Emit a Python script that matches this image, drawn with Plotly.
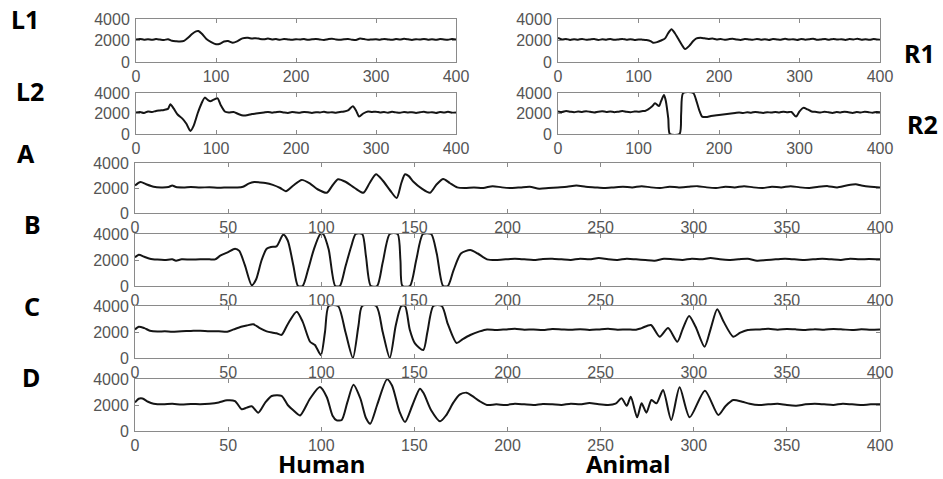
import plotly.graph_objects as go

# ---------------- data ----------------
L1_x = [0, 5, 10, 15, 20, 25, 30, 35, 40, 45, 50, 55, 60, 65, 70, 75, 78, 82, 88, 94, 100, 105, 110, 115, 121, 127, 133,
        140, 145, 150, 155, 160, 165, 170, 175, 180, 185, 190, 195, 200, 205, 210, 215, 220, 225, 230, 235, 240, 245,
        250, 255, 260, 265, 270, 275, 280, 285, 290, 295, 300, 305, 310, 315, 320, 325, 330, 335, 340, 345, 350, 355,
        360, 365, 370, 375, 380, 385, 390, 395, 400]
L1_y = [2100, 2150, 2080, 2120, 2060, 2130, 2090, 2050, 2120, 1980, 1930, 1900, 1960, 2250, 2600, 2850, 2880, 2650,
        2150, 1850, 1650, 1700, 1900, 1950, 1800, 1950, 2200, 2250, 2180, 2220, 2150, 2120, 2180, 2100, 2130, 2070,
        2140, 2100, 2060, 2120, 2090, 2130, 2060, 2110, 2150, 2090, 2050, 2120, 2170, 2100, 2060, 2110, 2140, 2080,
        2050, 2180, 2130, 2060, 2100, 2120, 2070, 2150, 2100, 2060, 2130, 2090, 2160, 2110, 2050, 2120, 2090, 2150,
        2080, 2120, 2060, 2140, 2100, 2080, 2130, 2090]

L2_x = [0, 5, 10, 15, 20, 25, 30, 35, 40, 43, 47, 52, 58, 63, 68, 72, 77, 82, 86, 90, 93, 97, 102, 106, 111, 116, 122,
        128, 134, 140, 145, 150, 155, 160, 165, 170, 175, 180, 185, 190, 195, 200, 205, 210, 215, 220, 225, 230, 235,
        240, 245, 250, 255, 260, 265, 271, 275, 279, 284, 290, 295, 300, 305, 310, 315, 320, 325, 330, 335, 340, 345,
        350, 355, 360, 365, 370, 375, 380, 385, 390, 395, 400]
L2_y = [2100, 2150, 2050, 2200, 2150, 2250, 2300, 2350, 2450, 2900, 2500, 1900, 1500, 1000, 300, 800, 2000, 3000, 3550,
        3300, 3200, 3350, 3480, 2800, 2200, 2100, 2150, 1950, 1800, 1850, 1950, 2000, 2050, 2100, 2150, 2080, 2130,
        2170, 2100, 2060, 2140, 2100, 2080, 2150, 2120, 2060, 2130, 2100, 2170, 2090, 2130, 2080, 2150, 2200, 2300,
        2700, 2300, 1700, 2000, 2200, 2150, 2180, 2100, 2140, 2080, 2160, 2110, 2070, 2150, 2100, 2130, 2060, 2120,
        2170, 2090, 2130, 2050, 2140, 2100, 2160, 2080, 2110]

R1_x = [0, 5, 10, 15, 20, 25, 30, 35, 40, 45, 50, 55, 60, 65, 70, 75, 80, 85, 90, 95, 100, 105, 110, 115, 118, 123,
        128, 133, 137, 141, 145, 149, 153, 158, 163, 168, 172, 177, 182, 187, 192, 197, 202, 207, 212, 217, 222, 227,
        232, 237, 242, 247, 252, 257, 262, 267, 272, 277, 282, 287, 292, 297, 302, 307, 312, 317, 322, 327, 332, 337,
        342, 347, 352, 357, 362, 367, 372, 377, 382, 387, 392, 396, 400]
R1_y = [2250, 2100, 2150, 2050, 2120, 2080, 2150, 2060, 2100, 2130, 2050, 2110, 2080, 2140, 2060, 2100, 2150, 2070,
        2120, 2050, 2100, 2080, 2050, 1950, 1800, 1850, 2000, 2200, 2700, 3050, 2700, 2200, 1700, 1200, 1500, 1950,
        2200, 2250, 2200, 2150, 2180, 2100, 2140, 2070, 2120, 2160, 2090, 2050, 2130, 2100, 2060, 2150, 2080, 2120,
        2050, 2140, 2100, 2070, 2160, 2090, 2120, 2050, 2140, 2080, 2110, 2170, 2060, 2100, 2130, 2070, 2150, 2090,
        2120, 2050, 2130, 2100, 2160, 2080, 2110, 2060, 2140, 2100, 2080]

R2_x = [0, 5, 10, 15, 20, 25, 30, 35, 40, 45, 50, 55, 60, 65, 70, 75, 80, 85, 90, 95, 100, 104, 108, 112, 117, 120.6,
        125.5, 128, 131.7, 134, 137, 139, 151, 153, 155.5, 168, 172, 176, 179, 184, 190, 200, 210, 220, 225, 230,
        235, 240, 245, 250, 255, 260, 265, 270, 275, 280, 285, 290, 295.7, 300, 304.8, 310, 315, 321, 326, 331, 336,
        341, 346, 351, 356, 361, 366, 371, 376, 381, 386, 391, 396, 400]
R2_y = [2200, 2150, 2250, 2180, 2120, 2200, 2150, 2230, 2160, 2100, 2180, 2220, 2150, 2200, 2130, 2180, 2240, 2160,
        2120, 2200, 2170, 2230, 2250, 2400, 2700, 3000, 2720, 3200, 3800, 3200, 1500, 0, 0, 2000, 4000, 4000, 3200,
        2200, 1700, 1650, 1750, 1850, 1950, 2050, 2100, 2050, 2120, 2080, 2150, 2100, 2060, 2130, 2090, 2150, 2100,
        2180, 2120, 2150, 1700, 2200, 2550, 2400, 2200, 2150, 2100, 2170, 2120, 2060, 2150, 2100, 2180, 2120, 2060,
        2140, 2100, 2170, 2120, 2080, 2150, 2120]

A_x = [0, 3, 6, 10, 14, 18, 20, 22, 26, 30, 35, 40, 45, 50, 55, 58, 61, 64, 67, 70, 74, 78, 81, 85, 89.5, 94, 98, 103,
       106, 109, 113, 118, 122.6, 126, 129.4, 133, 137, 140.5, 143, 145, 147, 149.5, 154, 158.4, 162, 165.5, 169,
       173, 177, 182, 187, 192, 197, 202, 207, 212, 217, 222, 227, 232, 237, 242, 247, 252, 257, 262, 267, 272, 277,
       282, 287, 292, 297, 302, 307, 312, 317, 322, 327, 332, 337, 342, 347, 352, 357, 362, 367, 372, 377, 382, 387,
       390, 395, 400]
A_y = [2200, 2480, 2300, 2100, 2050, 2080, 2200, 2080, 2050, 2080, 2040, 2060, 2020, 2050, 2040, 2100, 2350, 2480,
       2450, 2400, 2250, 2000, 1750, 2200, 2650, 2350, 1900, 1620, 2200, 2700, 2500, 2000, 1620, 2400, 3100, 2600,
       1800, 1200, 2400, 3100, 2950, 2500, 1950, 1620, 2300, 2720, 2400, 2050, 2000, 2050, 2000, 2150, 2050, 2000,
       2050, 2100, 1950, 2000, 2050, 2100, 2200, 2100, 2050, 2000, 2050, 2100, 2050, 2150, 2050, 2000, 2100, 2050,
       2100, 2150, 2050, 2000, 2100, 2050, 2150, 2050, 2000, 2100, 2050, 2150, 2050, 2000, 2100, 2150, 2050, 2200,
       2300, 2200, 2100, 2050]

B_x = [0, 2, 5, 8, 12, 16, 20, 22, 25, 30, 35, 40, 43, 46, 50, 53.7, 56, 59, 62.7, 65, 68, 70.7, 73, 76, 79.6, 82, 85,
       87.5, 90, 93, 96, 99.5, 101, 104, 107.5, 110, 113, 116, 118.5, 122, 124, 126.6, 130, 133, 136.8, 141, 142.5,
       143.6, 147.6, 151, 154.6, 159, 162, 165.4, 168, 171, 175, 180, 184, 189, 194, 199, 204, 209, 214, 219, 224,
       229, 234, 239, 244, 249, 254, 259, 264, 269, 274, 279, 284, 289, 294, 299, 304, 309, 314, 319, 324, 329, 334,
       339, 344, 349, 354, 359, 364, 369, 374, 379, 384, 389, 394, 400]
B_y = [2200, 2410, 2250, 2100, 2030, 2000, 2050, 1950, 2050, 2030, 2060, 2050, 2050, 2350, 2600, 2870, 2700, 1600, 50,
       500, 2000, 2870, 3000, 3050, 3950, 3500, 1600, 0, 0, 1300, 2800, 4000, 4000, 2800, 0, 0, 1500, 3000, 4000,
       4000, 2300, 0, 0, 1800, 4000, 4000, 2000, 0, 0, 2000, 4000, 4000, 2500, 0, 0, 1200, 2500, 2770, 2500, 2050,
       2000, 2050, 2100, 2050, 2000, 2080, 2100, 2050, 2000, 2100, 2050, 2150, 2050, 2000, 2100, 2050, 2000, 1950,
       2100, 2050, 2000, 2100, 2050, 2150, 2050, 2000, 2050, 2100, 1950, 2000, 2050, 2100, 2050, 2000, 2050, 2100,
       2050, 2000, 2100, 2050, 2080, 2050]

C_x = [0, 2, 5, 8, 12, 16, 20, 25, 30, 35, 40, 45, 49.5, 53, 57, 60, 63.5, 67, 70.7, 74, 76, 78.7, 82, 86.8, 90, 94,
       96.6, 99.8, 102, 104, 109, 113, 117, 120, 122, 129.5, 133, 136.8, 140, 143, 145, 147.5, 150.3, 154.8, 157,
       160.2, 164.7, 168, 172.7, 176, 180, 185, 189, 194, 199, 204, 209, 214, 219, 224, 229, 234, 239, 244, 249, 254,
       259, 264, 269, 272, 277, 281.7, 286.2, 291.2, 294, 297.5, 301, 305.8, 309, 312.6, 316, 321.2, 325, 329, 335,
       340, 345, 350, 355, 360, 365, 370, 375, 380, 385, 390, 395, 400]
C_y = [2200, 2410, 2300, 2100, 2030, 2050, 2020, 2060, 2080, 2100, 2050, 2060, 2020, 2200, 2400, 2500, 2600, 2300,
       2050, 1950, 1900, 1780, 2600, 3560, 2800, 1250, 1000, 230, 2000, 4000, 4000, 2000, 0, 2500, 4000, 4000, 2000,
       0, 2500, 4000, 4000, 2200, 1130, 615, 2000, 4000, 4000, 2600, 1150, 1450, 1770, 2050, 2200, 2150, 2200, 2250,
       2180, 2200, 2150, 2230, 2200, 2170, 2220, 2150, 2200, 2250, 2180, 2200, 2180, 2300, 2540, 1640, 2300, 1250,
       2200, 3230, 2400, 870, 2200, 3745, 2800, 1640, 1950, 2150, 2200, 2250, 2180, 2230, 2200, 2150, 2220, 2180,
       2240, 2200, 2150, 2210, 2180, 2200]

D_x = [0, 2, 4, 7, 10, 15, 20, 25, 30, 35, 40, 45, 49.4, 53.7, 57.3, 60, 62.7, 66.2, 70, 73.4, 78.7, 82, 85, 88.6, 94,
       99.3, 103, 106, 108.3, 111, 114, 117.3, 121, 124, 126.3, 130, 135.3, 138, 142, 145, 149, 153, 155, 159, 163.8,
       167, 171, 174.3, 178, 181, 185, 189, 194, 199, 204, 209, 214, 219, 224, 229, 234, 239, 244, 249, 254, 258,
       261.3, 264, 266.2, 269.6, 272, 274.6, 277.3, 280, 283.5, 287.9, 292.4, 297.8, 306, 313.2, 317, 321.2, 326,
       330, 335, 340, 345, 350, 355, 360, 365, 370, 375, 380, 385, 390, 395, 400]
D_y = [2200, 2480, 2500, 2250, 2100, 2050, 2100, 2030, 2080, 2060, 2100, 2200, 2360, 2300, 1670, 1800, 1900, 1410,
       2200, 2690, 2700, 2000, 1590, 1200, 2500, 3380, 2600, 1200, 820, 850, 2200, 3560, 2500, 1000, 560, 2000, 3975,
       3500, 1500, 690, 2000, 3250, 2900, 1600, 745, 1200, 2200, 2800, 2950, 2700, 2300, 2000, 2050, 2000, 2100,
       2050, 2000, 2080, 2050, 2000, 2100, 2050, 2150, 2050, 2000, 2100, 2510, 1940, 2640, 1050, 2130, 1410, 2380,
       2130, 3150, 850, 3360, 1050, 3100, 1230, 1900, 2380, 2250, 2100, 2000, 2050, 2100, 2000, 1950, 2050, 2100,
       2050, 2000, 2100, 2050, 2000, 2050, 2050]

PANELS = [("L1", L1_x, L1_y), ("R1", R1_x, R1_y), ("L2", L2_x, L2_y), ("R2", R2_x, R2_y),
          ("A", A_x, A_y), ("B", B_x, B_y), ("C", C_x, C_y), ("D", D_x, D_y)]
X_RANGE = [0, 400]
Y_RANGE = [0, 4000]
Y_TICKS = [0, 2000, 4000]
SMALL_DTICK = 100
WIDE_DTICK = 50

# ---------------- layout (pixel boxes of each axes) ----------------
W, H = 943, 479
BOXES = {  # left, right, top, bottom in pixels
    "L1": (136, 456, 19, 62), "R1": (558, 880, 19, 62),
    "L2": (136, 456, 93, 134), "R2": (558, 880, 93, 134),
    "A": (135, 880, 163, 213), "B": (135, 880, 234, 286),
    "C": (135, 880, 306, 358), "D": (135, 880, 379, 431),
}
FRAME = "#8a8a8a"
TICKFONT = dict(family="Liberation Sans, Arial, sans-serif", size=16, color="#555555")

fig = go.Figure()
layout = dict(width=W, height=H, margin=dict(l=0, r=0, t=0, b=0), autosize=False,
              template="none", paper_bgcolor="white", plot_bgcolor="white", showlegend=False)

for i, (name, xs, ys) in enumerate(PANELS, start=1):
    sfx = "" if i == 1 else str(i)
    fig.add_trace(go.Scatter(x=xs, y=ys, mode="lines", xaxis="x" + sfx, yaxis="y" + sfx,
                             line=dict(color="#151515", width=2, shape="spline", smoothing=0.7),
                             hoverinfo="skip"))
    l, r, t, b = BOXES[name]
    common = dict(showline=True, linecolor=FRAME, linewidth=1, mirror="ticks", ticks="inside",
                  ticklen=4, tickcolor=FRAME, showgrid=False, zeroline=False, automargin=False,
                  tickfont=TICKFONT, fixedrange=True)
    layout["xaxis" + sfx] = dict(domain=[l / W, r / W], range=X_RANGE, anchor="y" + sfx,
                                 tickmode="linear", tick0=0,
                                 dtick=SMALL_DTICK if name[0] in "LR" else WIDE_DTICK, **common)
    layout["yaxis" + sfx] = dict(domain=[1 - b / H, 1 - t / H], range=Y_RANGE, anchor="x" + sfx,
                                 tickvals=Y_TICKS, ticklabelstandoff=2, **common)

LABELS = [("L1", 25, 19, 25), ("L2", 30, 91, 25), ("A", 26, 153, 25), ("B", 32, 224, 25), ("C", 32, 306, 25),
          ("D", 31, 377, 25), ("R1", 919, 53, 25), ("R2", 922, 124, 25),
          ("Human", 321, 463, 24), ("Animal", 628, 463, 24)]
ann = []
for txt, px, py, fs in LABELS:
    ann.append(dict(text="<b>%s</b>" % txt, x=px / W, y=1 - py / H, xref="paper", yref="paper",
                    xanchor="center", yanchor="middle", showarrow=False, borderpad=0,
                    font=dict(family="Noto Sans, Open Sans, sans-serif", size=fs, color="black")))
layout["annotations"] = ann

fig.update_layout(**layout)
fig.write_html("out.html")
